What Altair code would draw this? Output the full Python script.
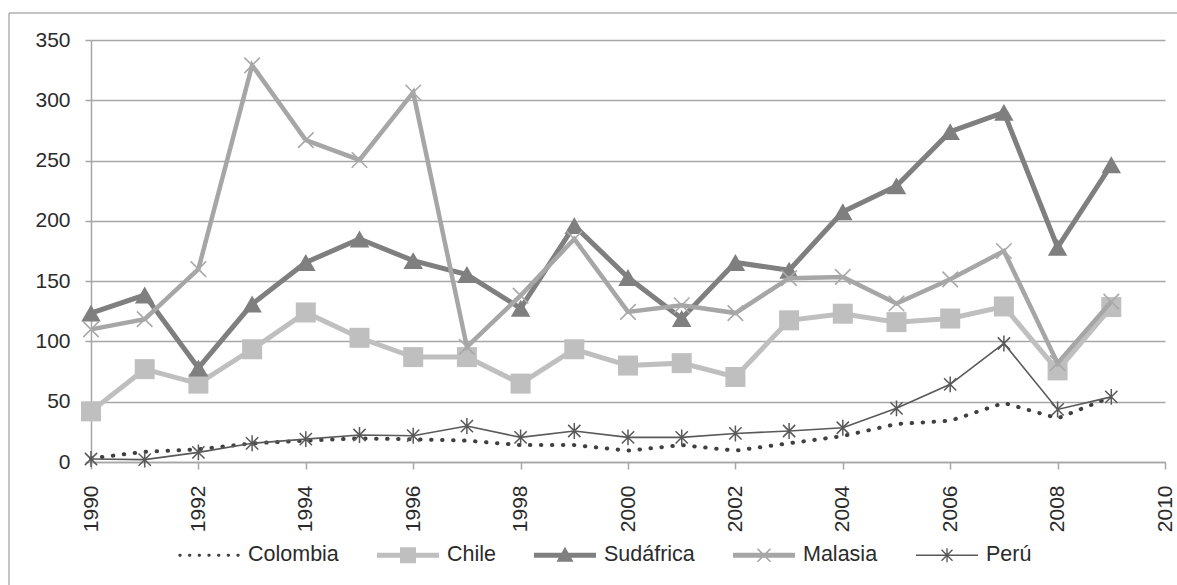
import math
import altair as alt
import pandas as pd

# ---------------- data ----------------
years = [1990, 1991, 1992, 1993, 1994, 1995, 1996, 1997, 1998, 1999,
         2000, 2001, 2002, 2003, 2004, 2005, 2006, 2007, 2008, 2009]
series_names = ["Colombia", "Chile", "Sudáfrica", "Malasia", "Perú"]
colombia = [3, 8.5, 10.5, 15.5, 17.7, 19.6, 18.8, 17.7, 14, 14,
            9.4, 14, 9.4, 15.5, 21.5, 31.5, 34.2, 49, 36.2, 54]
chile = [42, 77, 65, 93.5, 124, 103, 87, 87, 65, 93.5,
         80, 82, 70.5, 117.5, 123, 116, 119, 129, 76, 128.5]
sudafrica = [123.5, 138.5, 78, 131, 165.5, 185, 167, 155.5, 127.5, 196,
             153, 119, 165.5, 159, 207.5, 229, 274, 290, 178, 246.5]
malasia = [110, 118.5, 160, 329, 267, 250.5, 306.5, 95.5, 138, 185,
           124.5, 130, 123.5, 152.5, 153.5, 131.5, 151.5, 175, 82, 133]
peru = [2.5, 2, 8, 15.5, 19, 22.4, 21.8, 29.8, 20.4, 25.7,
        20.4, 20.4, 23.7, 25.7, 28.4, 44.5, 64.4, 98.3, 43.6, 54]
x_tick_values = [1990, 1992, 1994, 1996, 1998, 2000, 2002, 2004, 2006, 2008, 2010]
y_tick_values = [0, 50, 100, 150, 200, 250, 300, 350]

values = {"Colombia": colombia, "Chile": chile, "Sudáfrica": sudafrica,
          "Malasia": malasia, "Perú": peru}
rows = []
for name in series_names:
    for yr, v in zip(years, values[name]):
        rows.append({"year": yr, "value": v, "serie": name})
df = pd.DataFrame(rows)

# ---------------- styles ----------------
colors = {"Colombia": "#404040", "Chile": "#bfbfbf", "Sudáfrica": "#7f7f7f",
          "Malasia": "#a6a6a6", "Perú": "#595959"}
GRID = "#a6a6a6"
TXT = "#2b2b2b"
FONT = "Liberation Sans"

W, H = 1074, 422

# ---------------- legend symbol paths (line + marker) ----------------
LEG_W = 62.0
U = LEG_W / 2.0  # px per path unit


def poly(pts):
    area = 0.0
    n = len(pts)
    for i in range(n):
        x1, y1 = pts[i]
        x2, y2 = pts[(i + 1) % n]
        area += x1 * y2 - x2 * y1
    if area < 0:
        pts = list(reversed(pts))
    s = "M" + "L".join(f"{x / U:.4f},{y / U:.4f}" for x, y in pts) + "Z"
    return s


def rect(x0, y0, x1, y1):
    return poly([(x0, y0), (x1, y0), (x1, y1), (x0, y1)])


def seg(p, q, t):
    dx, dy = q[0] - p[0], q[1] - p[1]
    L = math.hypot(dx, dy)
    nx, ny = -dy / L * t / 2, dx / L * t / 2
    return poly([(p[0] + nx, p[1] + ny), (q[0] + nx, q[1] + ny),
                 (q[0] - nx, q[1] - ny), (p[0] - nx, p[1] - ny)])


def dot(cx, cy, r):
    pts = [(cx + r * math.cos(2 * math.pi * k / 10), cy + r * math.sin(2 * math.pi * k / 10))
           for k in range(10)]
    return poly(pts)


half = LEG_W / 2
leg_colombia = "".join(dot(-29 + k * 9.67, 0, 1.7) for k in range(7))
leg_chile = rect(-half, -2.5, half, 2.5) + rect(-8, -8, 8, 8)
leg_sud = rect(-half, -2.5, half, 2.5) + poly([(0, -8.5), (8.5, 6.5), (-8.5, 6.5)])
leg_mal = (rect(-half, -2.5, half, 2.5) + seg((-6.5, -6.5), (6.5, 6.5), 1.6)
           + seg((-6.5, 6.5), (6.5, -6.5), 1.6))
leg_peru = (rect(-half, -0.8, half, 0.8) + seg((-5.5, -5.5), (5.5, 5.5), 1.4)
            + seg((-5.5, 5.5), (5.5, -5.5), 1.4) + seg((0, -7), (0, 7), 1.4))
legend_paths = [leg_colombia, leg_chile, leg_sud, leg_mal, leg_peru]

# ---------------- encodings ----------------
xs = alt.Scale(domain=[1990, 2010], nice=False, zero=False)
ys = alt.Scale(domain=[0, 350], nice=False, zero=True)

X = alt.X("year:Q", scale=xs, title=None,
          axis=alt.Axis(values=x_tick_values, format="d", labelAngle=270,
                        labelAlign="right", labelBaseline="middle",
                        tickSize=7, labelPadding=16, grid=False,
                        domainColor=GRID, domainWidth=1.5, tickColor=GRID,
                        tickWidth=1.5, labelFont=FONT, labelFontSize=21,
                        labelColor=TXT, labelOverlap=False))
Y = alt.Y("value:Q", scale=ys, title=None,
          axis=alt.Axis(values=y_tick_values, tickSize=6, labelPadding=15,
                        grid=True, gridColor=GRID, gridWidth=1.5,
                        domainColor=GRID, domainWidth=1.5, tickColor=GRID,
                        tickWidth=1.5, labelFont=FONT, labelFontSize=21,
                        labelColor=TXT, labelOverlap=False))

base = alt.Chart(df)


def sel(name):
    return base.transform_filter(alt.datum.serie == name)


layers = []
# Colombia: dotted line, no marker
layers.append(sel("Colombia").mark_line(color=colors["Colombia"], strokeWidth=4,
                                        strokeDash=[0.5, 10.5], strokeCap="round")
              .encode(x=X, y=Y))
# Chile
layers.append(sel("Chile").mark_line(color=colors["Chile"], strokeWidth=5).encode(x=X, y=Y))
layers.append(sel("Chile").mark_point(shape="square", filled=True, size=400, opacity=1,
                                      color=colors["Chile"]).encode(x=X, y=Y))
# Sudáfrica
layers.append(sel("Sudáfrica").mark_line(color=colors["Sudáfrica"], strokeWidth=5).encode(x=X, y=Y))
layers.append(sel("Sudáfrica").mark_point(shape="triangle-up", filled=True, size=380, opacity=1,
                                          color=colors["Sudáfrica"]).encode(x=X, y=Y))
# Malasia
layers.append(sel("Malasia").mark_line(color=colors["Malasia"], strokeWidth=4.5).encode(x=X, y=Y))
layers.append(sel("Malasia").mark_point(shape="M-1,-1L1,1M-1,1L1,-1", filled=False, size=240,
                                        opacity=1, strokeWidth=1.6,
                                        color="#a9a9a9").encode(x=X, y=Y))
# Perú
layers.append(sel("Perú").mark_line(color=colors["Perú"], strokeWidth=1.6).encode(x=X, y=Y))
layers.append(sel("Perú").mark_point(shape="M-1,-1L1,1M-1,1L1,-1M0,-1.3L0,1.3", filled=False,
                                     size=150, opacity=1, strokeWidth=1.5,
                                     color=colors["Perú"]).encode(x=X, y=Y))

# legend layer (no data drawn, explicit scale domains)
leg = alt.Legend(title=None, orient="none", legendX=87, legendY=484, direction="horizontal",
                 columns=5, symbolSize=LEG_W * LEG_W, symbolStrokeWidth=0,
                 labelOffset=8, columnPadding=38, labelFont=FONT, labelFontSize=21.5,
                 labelColor=TXT, padding=0, rowPadding=0)
layers.append(
    base.transform_filter("false").mark_point(filled=True, opacity=1).encode(
        x=X, y=Y,
        color=alt.Color("serie:N", scale=alt.Scale(domain=series_names,
                                                   range=[colors[n] for n in series_names]),
                        legend=leg),
        shape=alt.Shape("serie:N", scale=alt.Scale(domain=series_names, range=legend_paths),
                        legend=leg),
    )
)

# outer frame (decoration)
frame_top = alt.Chart(pd.DataFrame({"a": [0]})).mark_rule(color="#b0b0b0", strokeWidth=1.5).encode(
    x=alt.value(-82), x2=alt.value(1100), y=alt.value(-27))
frame_left = alt.Chart(pd.DataFrame({"a": [0]})).mark_rule(color="#b0b0b0", strokeWidth=1.5).encode(
    x=alt.value(-82), y=alt.value(-27), y2=alt.value(560))

chart = alt.layer(frame_top, frame_left, *layers).properties(
    width=W, height=H,
    autosize=alt.AutoSizeParams(type="none"),
    padding={"left": 91, "top": 40, "right": 12, "bottom": 123},
    background="white",
).configure_view(stroke=None)

chart.save("out.html", embed_options={"renderer": "svg", "actions": False})
